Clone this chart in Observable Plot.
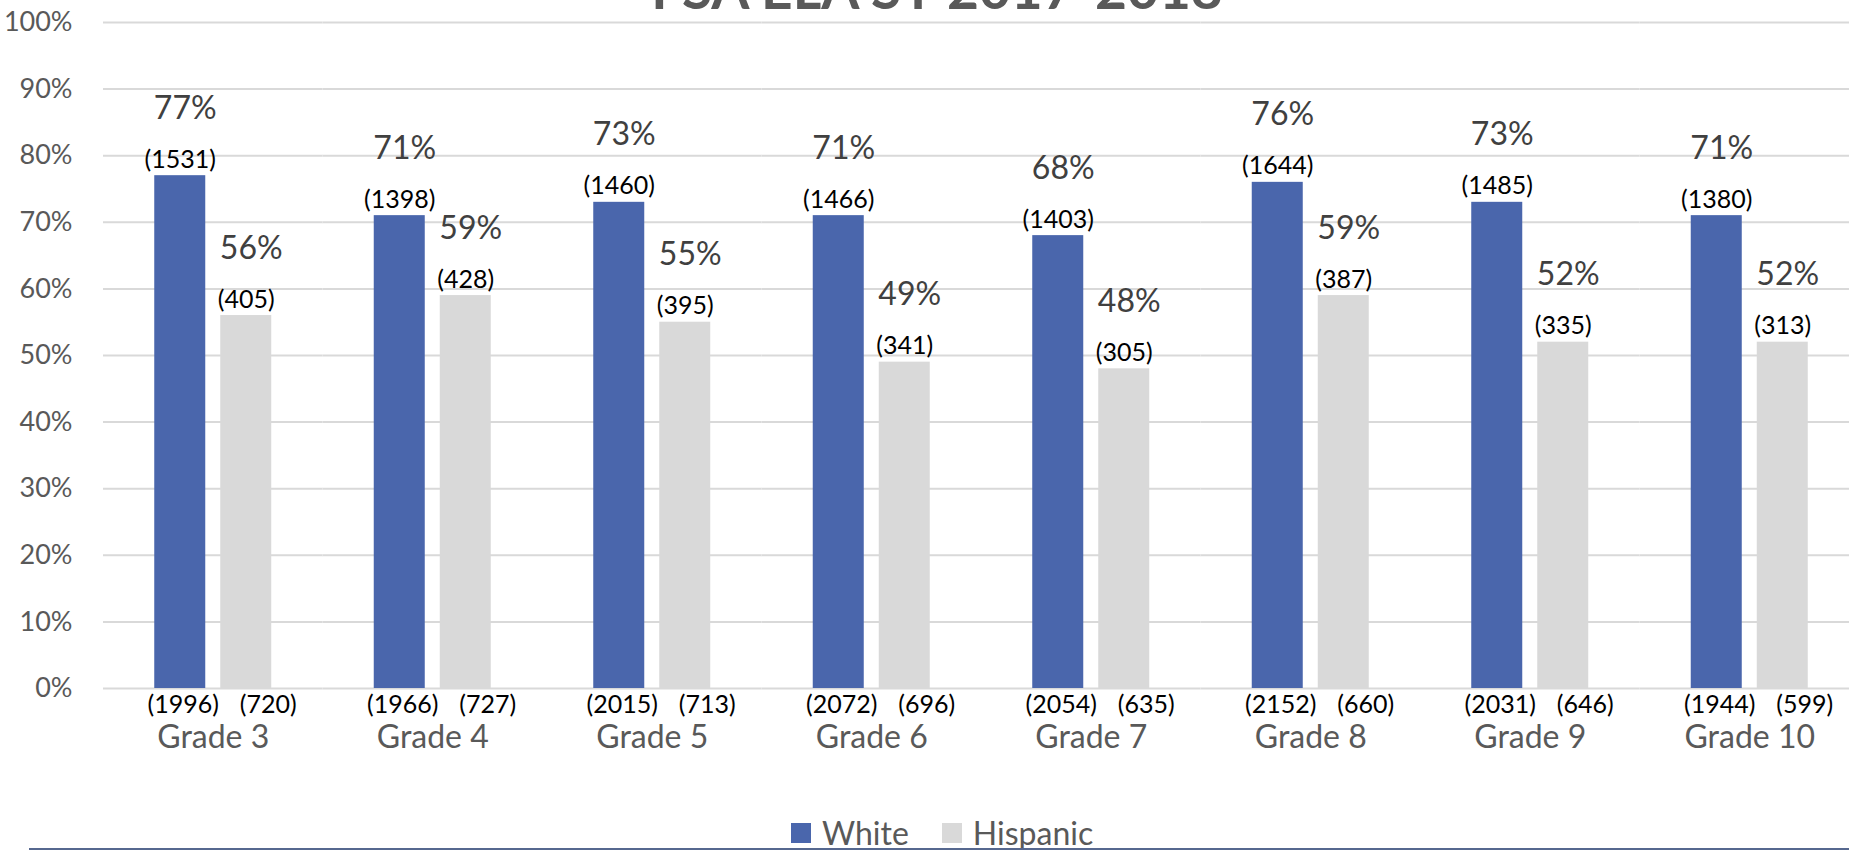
<!DOCTYPE html>
<html><head><meta charset="utf-8">
<script src="https://cdn.jsdelivr.net/npm/d3@7"></script>
<script src="https://cdn.jsdelivr.net/npm/@observablehq/plot@0.6"></script>
<style>
html,body{margin:0;padding:0;background:#fff;overflow:hidden}
#wrap{position:relative;width:1849px;height:850px;font-family:Lato,sans-serif}
#title{position:absolute;left:937px;top:-39px;transform:translateX(-50%);font:bold 55px/55px Lato,sans-serif;color:#595959;white-space:nowrap}
#chart{position:absolute;left:0;top:0}
#legend{position:absolute;left:791px;top:813px}
#rule{position:absolute;left:29px;top:848px;width:1820px;height:2px;background:#56688f}
.lg-swatch{margin-right:33px !important}
.lg-swatch > svg{margin-right:11px !important}
</style></head><body>
<div id="wrap"><div id="title">FSA ELA SY 2017-2018</div><div id="chart"></div><div id="legend"></div><div id="rule"></div></div>
<script>
const grades = ["Grade 3","Grade 4","Grade 5","Grade 6","Grade 7","Grade 8","Grade 9","Grade 10"];
const series = ["White","Hispanic"];
const colors = ["#4a66ac","#d9d9d9"];
const whitePct = [77,71,73,71,68,76,73,71];
const hispanicPct = [56,59,55,49,48,59,52,52];
const whiteN = [1531,1398,1460,1466,1403,1644,1485,1380];
const hispanicN = [405,428,395,341,305,387,335,313];
const whiteTotal = [1996,1966,2015,2072,2054,2152,2031,1944];
const hispanicTotal = [720,727,713,696,635,660,646,599];
const yTicks = [0,10,20,30,40,50,60,70,80,90,100];

const data = [];
grades.forEach((g, i) => {
  data.push({grade: g, series: series[0], pct: whitePct[i], n: whiteN[i], total: whiteTotal[i]});
  data.push({grade: g, series: series[1], pct: hispanicPct[i], n: hispanicN[i], total: hispanicTotal[i]});
});
const isW = d => d.series === series[0];

const chart = Plot.plot({
  width: 1849, height: 810,
  marginLeft: 103, marginRight: 0, marginTop: 22, marginBottom: 122,
  style: {fontFamily: "Lato, sans-serif", background: "transparent"},
  fx: {domain: grades, range: [103, 1859], paddingInner: 0, paddingOuter: 0, round: false, label: null},
  x: {domain: series, paddingInner: 0.2273, paddingOuter: 0.7765, round: false, axis: null},
  y: {domain: [0, 100], label: null},
  color: {domain: series, range: colors},
  marks: [
    Plot.gridY({ticks: yTicks, stroke: "#d9d9d9", strokeOpacity: 1, strokeWidth: 2}),
    Plot.axisY({ticks: yTicks, tickSize: 0, tickPadding: 31, tickFormat: d => d + "%", fontSize: 27, fill: "#595959", label: null}),
    Plot.axisFx({anchor: "bottom", tickSize: 0, tickPadding: 37, fontSize: 32, fill: "#595959", label: null}),
    Plot.barY(data, {fx: "grade", x: "series", y: "pct", fill: "series"}),
    Plot.text(data, {fx: "grade", x: "series", y: "pct", text: d => `(${d.n})`, lineAnchor: "bottom", dy: -8, fontSize: 25, fill: "#000"}),
    Plot.text(data, {fx: "grade", x: "series", y: "pct", text: d => d.pct + "%", lineAnchor: "bottom", dy: -57, dx: 5, fontSize: 32, fill: "#404040"}),
    Plot.text(data.filter(isW), {fx: "grade", x: "series", y: 0, text: d => `(${d.total})`, lineAnchor: "bottom", dy: 24, dx: 3, fontSize: 25, fill: "#000"}),
    Plot.text(data.filter(d => !isW(d)), {fx: "grade", x: "series", y: 0, text: d => `(${d.total})`, lineAnchor: "bottom", dy: 24, dx: 22, fontSize: 25, fill: "#000"})
  ]
});
document.getElementById("chart").appendChild(chart);

const leg = Plot.legend({
  color: {domain: series, range: colors},
  legend: "swatches", swatchSize: 20, className: "lg",
  style: {fontSize: "32px", fontFamily: "Lato, sans-serif", color: "#595959", margin: 0}
});
document.getElementById("legend").appendChild(leg);
</script></body></html>
